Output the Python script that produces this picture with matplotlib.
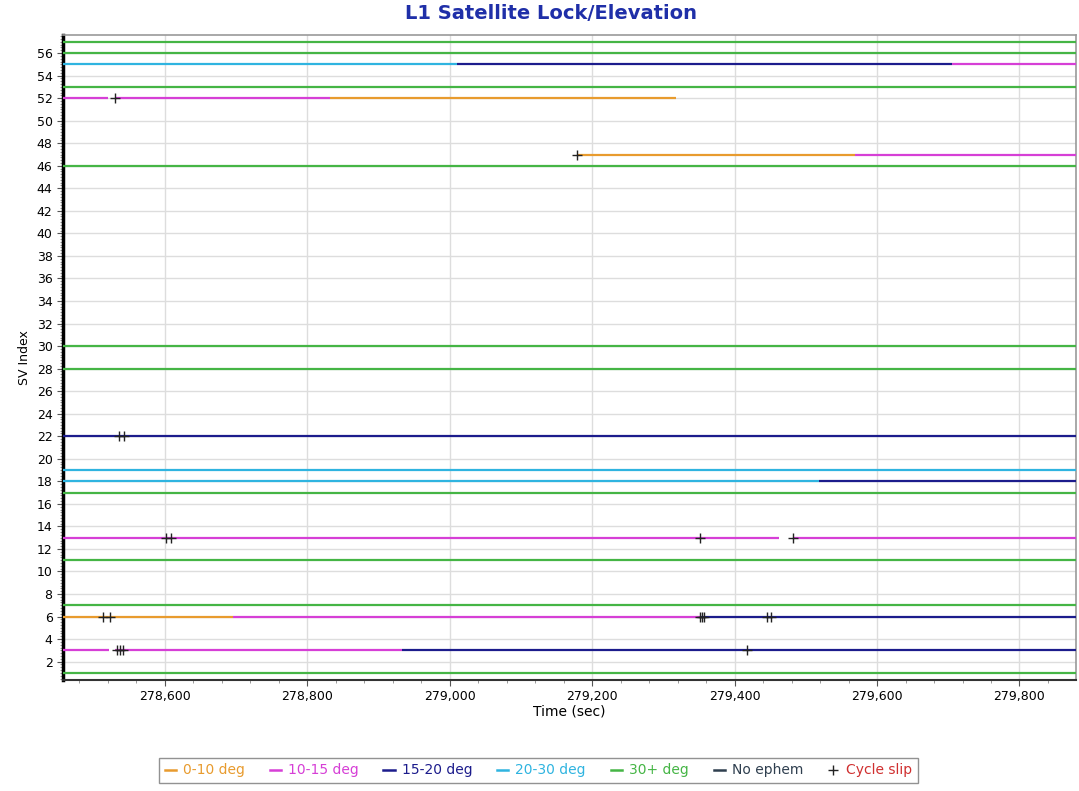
import matplotlib.pyplot as plt
from matplotlib.lines import Line2D
from matplotlib.ticker import FuncFormatter, MultipleLocator

T0, T1 = 278457, 279879

band_names = ["0-10 deg", "10-15 deg", "15-20 deg", "20-30 deg", "30+ deg", "No ephem"]
band_colors = ["#E89B2E", "#D63FD6", "#1C1C8C", "#2FB4E0", "#45B545", "#2F3F4F"]

# lock segments: SV index, start, end, elevation band (index into band_names)
seg_sv = [57, 56, 55, 55, 55, 53, 52, 52, 52,
          47, 47, 46, 30, 28, 22, 19, 18, 18, 17,
          13, 13, 11, 7, 6, 6, 6, 3, 3, 3, 1]
seg_start = [T0, T0, T0, 279010, 279705, T0, T0, 278530, 278832,
             279178, 279569, T0, T0, T0, T0, T0, T0, 279519, T0,
             T0, 279482, T0, T0, T0, 278696, 279352, T0, 278530, 278933, T0]
seg_end = [T1, T1, 279010, 279705, T1, T1, 278520, 278832, 279317,
           279569, T1, T1, T1, T1, T1, T1, 279519, T1, T1,
           279462, T1, T1, T1, 278696, 279352, T1, 278522, 278933, T1, T1]
seg_band = [4, 4, 3, 2, 1, 4, 1, 1, 0,
            0, 1, 4, 4, 4, 2, 3, 3, 2, 4,
            1, 1, 4, 4, 0, 1, 2, 1, 1, 2, 4]

# cycle slips
slip_sv = [52, 47, 22, 22, 13, 13, 13, 13, 6, 6, 6, 6, 6, 6, 6, 3, 3, 3, 3]
slip_t = [278530, 279178, 278536, 278542, 278602, 278609, 279351, 279482,
          278513, 278523, 279351, 279354, 279357, 279446, 279451,
          278533, 278537, 278541, 279418]

fig = plt.figure(figsize=(10.79, 7.91), dpi=100)
ax = fig.add_axes([0.0584, 0.1403, 0.9386, 0.8154])

for sv, t0, t1, b in zip(seg_sv, seg_start, seg_end, seg_band):
    ax.hlines(sv, t0, t1, color=band_colors[b], linewidth=1.6, zorder=3)

ax.plot(slip_t, slip_sv, linestyle="none", marker="+", color="#222222",
        markersize=7, markeredgewidth=1.0, zorder=4)

ax.set_xlim(T0, T1)
ax.set_ylim(0.37, 57.6)
ax.xaxis.set_major_locator(MultipleLocator(200))
ax.xaxis.set_minor_locator(MultipleLocator(40))
ax.xaxis.set_major_formatter(FuncFormatter(lambda v, p: f"{v:,.0f}"))
ax.yaxis.set_major_locator(MultipleLocator(2))
ax.yaxis.set_minor_locator(MultipleLocator(0.25))
ax.grid(True, which="major", color="#DDDDDD", linewidth=1.0, zorder=0)
ax.tick_params(axis="both", which="major", labelsize=9, length=4, color="#555555")
ax.tick_params(axis="both", which="minor", length=2, color="#888888")

for s in ["top", "right"]:
    ax.spines[s].set_color("#999999")
    ax.spines[s].set_linewidth(1.2)
ax.spines["left"].set_color("black")
ax.spines["left"].set_linewidth(2.5)
ax.spines["bottom"].set_color("#333333")
ax.spines["bottom"].set_linewidth(1.5)

ax.set_xlabel("Time (sec)", fontsize=10, labelpad=1)
ax.set_ylabel("SV Index", fontsize=9, labelpad=4)
fig.suptitle("L1 Satellite Lock/Elevation", x=0.511, y=0.995,
             fontsize=14, fontweight="bold", color="#1F2FA8")

handles = [Line2D([], [], color=c, linewidth=1.8) for c in band_colors]
handles.append(Line2D([], [], linestyle="none", marker="+", color="#222222",
                      markersize=7))
labels = band_names + ["Cycle slip"]
leg = fig.legend(handles, labels, loc="center", bbox_to_anchor=(0.499, 0.026),
                 ncol=7, fontsize=10, frameon=True, handlelength=0.8,
                 handletextpad=0.5, columnspacing=1.8, fancybox=False,
                 borderpad=0.4)
leg.get_frame().set_edgecolor("#777777")
text_colors = band_colors[:5] + ["#2F3F4F", "#D03030"]
for txt, c in zip(leg.get_texts(), text_colors):
    txt.set_color(c)

fig.savefig("out.png", dpi=100)
